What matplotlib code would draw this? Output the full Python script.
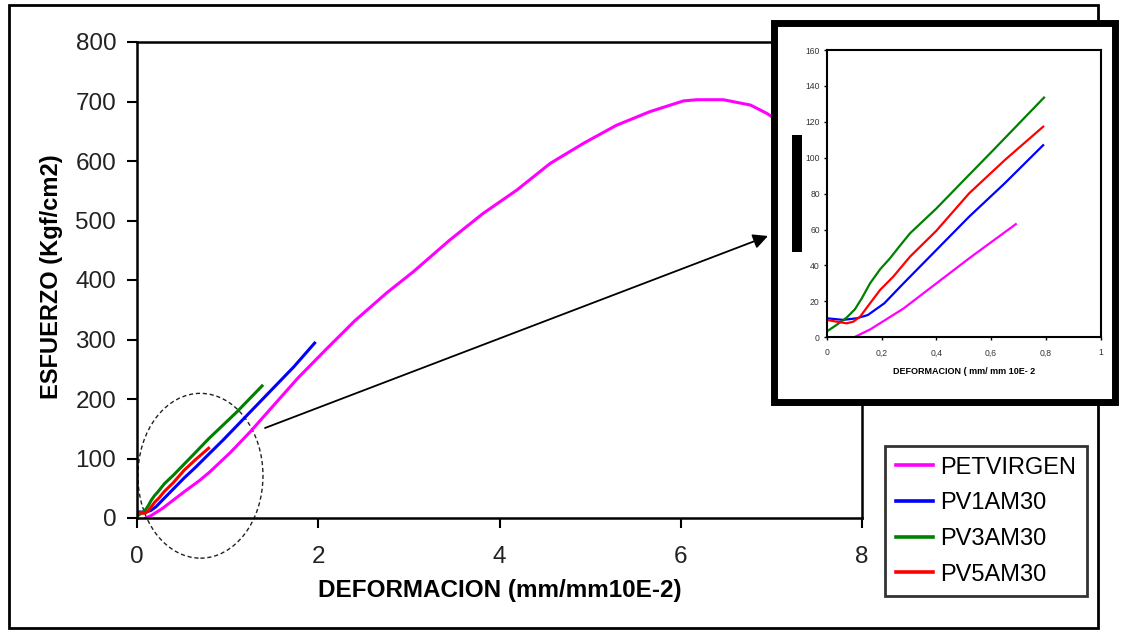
import matplotlib
matplotlib.use("Agg")
import matplotlib.pyplot as plt
from matplotlib.patches import Rectangle, Ellipse
import numpy as np

plt.rcParams["font.family"] = ["Liberation Sans", "DejaVu Sans"]

W, H = 1128, 632

# Curvas esfuerzo-deformacion (deformacion en mm/mm 10E-2, esfuerzo en Kgf/cm2)
series = ["PETVIRGEN", "PV1AM30", "PV3AM30", "PV5AM30"]
colores = ["#FF00FF", "#0000FF", "#008000", "#FF0000"]

pet_x = [0.10, 0.16, 0.28, 0.40, 0.52, 0.69, 0.80, 1.03, 1.25, 1.50, 1.78, 2.09,
         2.40, 2.76, 3.05, 3.45, 3.82, 4.19, 4.56, 4.93, 5.29, 5.66, 6.03, 6.18,
         6.47, 6.77, 6.95, 7.10, 7.25]
pet_y = [0, 4.5, 16, 30, 44, 63, 77, 110, 145, 188, 236, 284,
         331, 379, 414, 467, 512, 551, 596, 630, 660, 683, 701, 703,
         703, 694, 680, 665, 645]

pv1_x = [0, 0.06, 0.11, 0.15, 0.21, 0.28, 0.40, 0.52, 0.65, 0.79, 0.95, 1.21,
         1.47, 1.73, 1.96]
pv1_y = [10.6, 9.7, 10.6, 12.4, 18.9, 30, 48.6, 67.2, 85.8, 107, 131, 172,
         213, 254, 294]

pv3_x = [0, 0.036, 0.073, 0.103, 0.128, 0.158, 0.195, 0.231, 0.262, 0.304,
         0.40, 0.50, 0.60, 0.70, 0.793, 1.10, 1.38]
pv3_y = [3.2, 6.9, 11, 15.6, 21.7, 30, 37.9, 44, 50, 57.9,
         71.7, 87.4, 103, 118.8, 133.5, 178, 222]

pv5_x = [0, 0.036, 0.073, 0.097, 0.122, 0.158, 0.195, 0.243, 0.304, 0.40,
         0.52, 0.65, 0.79]
pv5_y = [9.7, 8.7, 7.8, 8.7, 11.5, 18.9, 26.4, 33.8, 44.9, 59.3,
         80.2, 98.7, 117.3]

datos_x = [pet_x, pv1_x, pv3_x, pv5_x]
datos_y = [pet_y, pv1_y, pv3_y, pv5_y]
# Hasta donde se muestra cada curva en la ampliacion
inset_hasta = [0.69, 0.8, 0.8, 0.8]

main_xticks = [0, 2, 4, 6, 8]
main_yticks = [0, 100, 200, 300, 400, 500, 600, 700, 800]
inset_xticks = [0, 0.2, 0.4, 0.6, 0.8, 1]
inset_xlabels = ["0", "0,2", "0,4", "0,6", "0,8", "1"]
inset_yticks = [0, 20, 40, 60, 80, 100, 120, 140, 160]


def fx(px):
    return px / W


def fy(py):
    return 1 - py / H


fig = plt.figure(figsize=(W / 100, H / 100), dpi=100)
fig.patch.set_facecolor("white")

# Marco exterior
fig.add_artist(Rectangle((fx(9), fy(628)), fx(1098) - fx(9), fy(5) - fy(628),
                         transform=fig.transFigure, fill=False, edgecolor="black",
                         linewidth=2, zorder=0))

# Grafico principal
ax = fig.add_axes([fx(137), fy(518), fx(862) - fx(137), fy(42) - fy(518)])
for nombre, c, xs, ys in zip(series, colores, datos_x, datos_y):
    ax.plot(xs, ys, color=c, linewidth=2.2, label=nombre)

ax.set_xlim(0, 8)
ax.set_ylim(0, 800)
ax.set_xticks(main_xticks)
ax.set_yticks(main_yticks)
for s in ax.spines.values():
    s.set_linewidth(1.8)
ax.tick_params(axis="both", direction="out", length=7, width=1.5,
               labelsize=17.5, labelcolor="#222222")
ax.tick_params(axis="x", pad=13)
ax.tick_params(axis="y", pad=8)

ax.set_xlabel("DEFORMACION (mm/mm10E-2)", fontsize=17.5, fontweight="bold")
ax.xaxis.label.set_va("center")
ax.xaxis.set_label_coords(0.5, -0.153)
ax.set_ylabel("ESFUERZO (Kgf/cm2)", fontsize=17, fontweight="bold")
ax.yaxis.set_label_coords(-0.102, 0.506)

# Zona ampliada marcada con una elipse
ax.add_patch(Ellipse((0.70, 71), 1.38, 277, fill=False, edgecolor="#222222",
                     linewidth=1.0, linestyle=(0, (3, 2)), clip_on=False))
ax.annotate("", xy=(768, H - 236), xytext=(265, H - 428),
            xycoords="figure pixels", textcoords="figure pixels",
            annotation_clip=False,
            arrowprops=dict(arrowstyle="-|>", color="black", lw=1.3,
                            mutation_scale=22, shrinkA=0, shrinkB=0))

fig.legend(loc="upper left", bbox_to_anchor=(fx(885), fy(446)), borderaxespad=0,
           fontsize=17, frameon=True, fancybox=False, edgecolor="black",
           handlelength=1.6, handletextpad=0.3, borderpad=0.45, labelspacing=0.58)
leg = fig.legends[0]
leg.get_frame().set_linewidth(2)
for ln in leg.get_lines():
    ln.set_linewidth(2.6)

# Recuadro de la ampliacion
fig.add_artist(Rectangle((fx(773.5), fy(401.5)), fx(1114.5) - fx(773.5),
                         fy(23.5) - fy(401.5), transform=fig.transFigure,
                         facecolor="white", edgecolor="black", linewidth=5.0,
                         zorder=2))
fig.add_artist(Rectangle((fx(792), fy(252)), fx(802) - fx(792), fy(135) - fy(252),
                         transform=fig.transFigure, facecolor="black",
                         edgecolor="none", zorder=3))

axi = fig.add_axes([fx(826.7), fy(337.3), fx(1100.7) - fx(826.7), fy(50) - fy(337.3)])
axi.set_zorder(4)
for c, xs, ys, lim in zip(colores, datos_x, datos_y, inset_hasta):
    xs = np.array(xs)
    ys = np.array(ys)
    m = xs <= lim + 1e-9
    axi.plot(xs[m], ys[m], color=c, linewidth=1.6)

axi.set_xlim(0, 1)
axi.set_ylim(0, 160)
axi.set_xticks(inset_xticks)
axi.set_xticklabels(inset_xlabels)
axi.set_yticks(inset_yticks)
for s in axi.spines.values():
    s.set_linewidth(1.5)
axi.tick_params(axis="both", direction="out", length=2, width=1,
                labelsize=6.2, labelcolor="#333333", pad=3)
axi.tick_params(axis="x", pad=6)
axi.set_xlabel("DEFORMACION ( mm/ mm 10E- 2", fontsize=6.5, fontweight="bold")
axi.xaxis.set_label_coords(0.5, -0.105)

fig.savefig("out.png", dpi=100)
